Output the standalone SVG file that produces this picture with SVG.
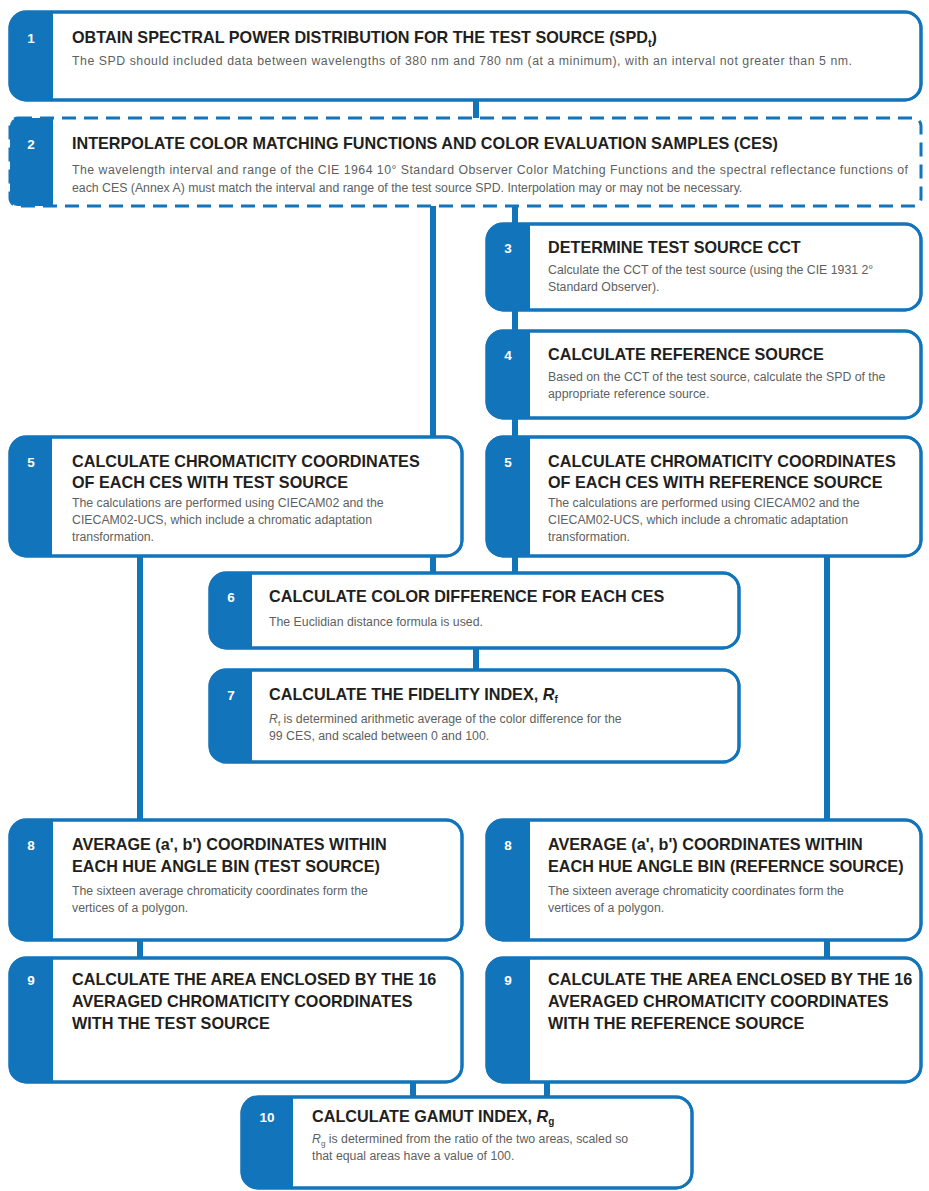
<svg xmlns="http://www.w3.org/2000/svg" width="929" height="1191" viewBox="0 0 929 1191">
<style>
.bg{fill:#fff}
.bx{fill:#fff;stroke:#1275bb;stroke-width:3}
.bxd{fill:none;stroke:#1275bb;stroke-width:3;stroke-dasharray:14 8}
.tab{fill:#1275bb}
.con{stroke:#1275bb;stroke-width:6;fill:none}
.num{font-family:"Liberation Sans",Arial,sans-serif;font-weight:bold;font-size:13.5px;fill:#fff;text-anchor:middle}
.ttl{font-family:"Liberation Sans",Arial,sans-serif;font-weight:bold;font-size:16.2px;fill:#231f20}
.sub{font-family:"Liberation Sans",Arial,sans-serif;font-size:12.3px;fill:#5e5f61}
</style>
<rect class="bg" x="0" y="0" width="929" height="1191"/>
<g id="connectors">
<line class="con" x1="476" y1="100" x2="476" y2="118"/>
<line class="con" x1="433" y1="206" x2="433" y2="437"/>
<line class="con" x1="515" y1="206" x2="515" y2="224"/>
<line class="con" x1="515" y1="310" x2="515" y2="331"/>
<line class="con" x1="515" y1="418" x2="515" y2="437"/>
<line class="con" x1="433" y1="556" x2="433" y2="573"/>
<line class="con" x1="515" y1="556" x2="515" y2="573"/>
<line class="con" x1="476" y1="648" x2="476" y2="670"/>
<line class="con" x1="140" y1="556" x2="140" y2="820"/>
<line class="con" x1="827" y1="556" x2="827" y2="820"/>
<line class="con" x1="140" y1="940" x2="140" y2="958"/>
<line class="con" x1="827" y1="940" x2="827" y2="958"/>
<line class="con" x1="413" y1="1082" x2="413" y2="1097"/>
<line class="con" x1="547" y1="1082" x2="547" y2="1097"/>
</g>
<g id="n1">
<rect class="bx" x="10" y="12" width="911" height="88" rx="16"/>
<path class="tab" d="M26 12 H53 V100 H26 A16 16 0 0 1 10 84 V28 A16 16 0 0 1 26 12 Z"/>
<rect fill="none" stroke="#1275bb" stroke-width="3" x="10" y="12" width="911" height="88" rx="16"/>
<text class="num" x="31" y="43">1</text>
<text class="ttl" x="72" y="43">OBTAIN SPECTRAL POWER DISTRIBUTION FOR THE TEST SOURCE (SPD<tspan font-size="11" dy="4">t</tspan><tspan dy="-4">)</tspan></text>
<text class="sub" x="72" y="65" textLength="780">The SPD should included data between wavelengths of 380 nm and 780 nm (at a minimum), with an interval not greater than 5 nm.</text>
</g>
<g id="n2">
<rect fill="#fff" x="10" y="118" width="911" height="88" rx="8"/>
<path class="tab" d="M18 118 H53 V206 H18 A8 8 0 0 1 10 198 V126 A8 8 0 0 1 18 118 Z"/>
<rect class="bxd" x="10" y="118" width="911" height="88" rx="8"/>
<text class="num" x="31" y="149">2</text>
<text class="ttl" x="72" y="149">INTERPOLATE COLOR MATCHING FUNCTIONS AND COLOR EVALUATION SAMPLES (CES)</text>
<text class="sub" x="72" y="174" textLength="836">The wavelength interval and range of the CIE 1964 10° Standard Observer Color Matching Functions and the spectral reflectance functions of</text>
<text class="sub" x="72" y="192">each CES (Annex A) must match the interval and range of the test source SPD. Interpolation may or may not be necessary.</text>
</g>
<g id="n3">
<rect class="bx" x="487" y="224" width="434" height="86" rx="16"/>
<path class="tab" d="M503 224 H530 V310 H503 A16 16 0 0 1 487 294 V240 A16 16 0 0 1 503 224 Z"/>
<rect fill="none" stroke="#1275bb" stroke-width="3" x="487" y="224" width="434" height="86" rx="16"/>
<text class="num" x="508" y="253">3</text>
<text class="ttl" x="548" y="253">DETERMINE TEST SOURCE CCT</text>
<text class="sub" x="548" y="274">Calculate the CCT of the test source (using the CIE 1931 2°</text>
<text class="sub" x="548" y="291">Standard Observer).</text>
</g>
<g id="n4">
<rect class="bx" x="487" y="331" width="434" height="87" rx="16"/>
<path class="tab" d="M503 331 H530 V418 H503 A16 16 0 0 1 487 402 V347 A16 16 0 0 1 503 331 Z"/>
<rect fill="none" stroke="#1275bb" stroke-width="3" x="487" y="331" width="434" height="87" rx="16"/>
<text class="num" x="508" y="360">4</text>
<text class="ttl" x="548" y="360">CALCULATE REFERENCE SOURCE</text>
<text class="sub" x="548" y="381">Based on the CCT of the test source, calculate the SPD of the</text>
<text class="sub" x="548" y="398">appropriate reference source.</text>
</g>
<g id="n5a">
<rect class="bx" x="10" y="437" width="452" height="119" rx="16"/>
<path class="tab" d="M26 437 H52 V556 H26 A16 16 0 0 1 10 540 V453 A16 16 0 0 1 26 437 Z"/>
<rect fill="none" stroke="#1275bb" stroke-width="3" x="10" y="437" width="452" height="119" rx="16"/>
<text class="num" x="31" y="467">5</text>
<text class="ttl" x="72" y="467">CALCULATE CHROMATICITY COORDINATES</text>
<text class="ttl" x="72" y="488">OF EACH CES WITH TEST SOURCE</text>
<text class="sub" x="72" y="507">The calculations are performed using CIECAM02 and the</text>
<text class="sub" x="72" y="524">CIECAM02-UCS, which include a chromatic adaptation</text>
<text class="sub" x="72" y="541">transformation.</text>
</g>
<g id="n5b">
<rect class="bx" x="487" y="437" width="434" height="119" rx="16"/>
<path class="tab" d="M503 437 H530 V556 H503 A16 16 0 0 1 487 540 V453 A16 16 0 0 1 503 437 Z"/>
<rect fill="none" stroke="#1275bb" stroke-width="3" x="487" y="437" width="434" height="119" rx="16"/>
<text class="num" x="508" y="467">5</text>
<text class="ttl" x="548" y="467">CALCULATE CHROMATICITY COORDINATES</text>
<text class="ttl" x="548" y="488">OF EACH CES WITH REFERENCE SOURCE</text>
<text class="sub" x="548" y="507">The calculations are performed using CIECAM02 and the</text>
<text class="sub" x="548" y="524">CIECAM02-UCS, which include a chromatic adaptation</text>
<text class="sub" x="548" y="541">transformation.</text>
</g>
<g id="n6">
<rect class="bx" x="210" y="573" width="529" height="75" rx="16"/>
<path class="tab" d="M226 573 H252 V648 H226 A16 16 0 0 1 210 632 V589 A16 16 0 0 1 226 573 Z"/>
<rect fill="none" stroke="#1275bb" stroke-width="3" x="210" y="573" width="529" height="75" rx="16"/>
<text class="num" x="231" y="602">6</text>
<text class="ttl" x="269" y="602">CALCULATE COLOR DIFFERENCE FOR EACH CES</text>
<text class="sub" x="269" y="626">The Euclidian distance formula is used.</text>
</g>
<g id="n7">
<rect class="bx" x="210" y="670" width="529" height="92" rx="16"/>
<path class="tab" d="M226 670 H252 V762 H226 A16 16 0 0 1 210 746 V686 A16 16 0 0 1 226 670 Z"/>
<rect fill="none" stroke="#1275bb" stroke-width="3" x="210" y="670" width="529" height="92" rx="16"/>
<text class="num" x="231" y="700">7</text>
<text class="ttl" x="269" y="700">CALCULATE THE FIDELITY INDEX, <tspan font-style="italic">R</tspan><tspan font-size="10" dy="3">f</tspan></text>
<text class="sub" x="269" y="723"><tspan font-style="italic">R</tspan><tspan font-size="8" dy="3">f</tspan><tspan dy="-3"> is determined arithmetic average of the color difference for the</tspan></text>
<text class="sub" x="269" y="740">99 CES, and scaled between 0 and 100.</text>
</g>
<g id="n8a">
<rect class="bx" x="10" y="820" width="452" height="120" rx="16"/>
<path class="tab" d="M26 820 H53 V940 H26 A16 16 0 0 1 10 924 V836 A16 16 0 0 1 26 820 Z"/>
<rect fill="none" stroke="#1275bb" stroke-width="3" x="10" y="820" width="452" height="120" rx="16"/>
<text class="num" x="31" y="850">8</text>
<text class="ttl" x="72" y="850">AVERAGE (a', b') COORDINATES WITHIN</text>
<text class="ttl" x="72" y="872">EACH HUE ANGLE BIN (TEST SOURCE)</text>
<text class="sub" x="72" y="895">The sixteen average chromaticity coordinates form the</text>
<text class="sub" x="72" y="912">vertices of a polygon.</text>
</g>
<g id="n8b">
<rect class="bx" x="487" y="820" width="434" height="120" rx="16"/>
<path class="tab" d="M503 820 H530 V940 H503 A16 16 0 0 1 487 924 V836 A16 16 0 0 1 503 820 Z"/>
<rect fill="none" stroke="#1275bb" stroke-width="3" x="487" y="820" width="434" height="120" rx="16"/>
<text class="num" x="508" y="850">8</text>
<text class="ttl" x="548" y="850">AVERAGE (a', b') COORDINATES WITHIN</text>
<text class="ttl" x="548" y="872">EACH HUE ANGLE BIN (REFERNCE SOURCE)</text>
<text class="sub" x="548" y="895">The sixteen average chromaticity coordinates form the</text>
<text class="sub" x="548" y="912">vertices of a polygon.</text>
</g>
<g id="n9a">
<rect class="bx" x="10" y="958" width="452" height="124" rx="16"/>
<path class="tab" d="M26 958 H53 V1082 H26 A16 16 0 0 1 10 1066 V974 A16 16 0 0 1 26 958 Z"/>
<rect fill="none" stroke="#1275bb" stroke-width="3" x="10" y="958" width="452" height="124" rx="16"/>
<text class="num" x="31" y="985">9</text>
<text class="ttl" x="72" y="985">CALCULATE THE AREA ENCLOSED BY THE 16</text>
<text class="ttl" x="72" y="1007">AVERAGED CHROMATICITY COORDINATES</text>
<text class="ttl" x="72" y="1029">WITH THE TEST SOURCE</text>
</g>
<g id="n9b">
<rect class="bx" x="487" y="958" width="434" height="124" rx="16"/>
<path class="tab" d="M503 958 H530 V1082 H503 A16 16 0 0 1 487 1066 V974 A16 16 0 0 1 503 958 Z"/>
<rect fill="none" stroke="#1275bb" stroke-width="3" x="487" y="958" width="434" height="124" rx="16"/>
<text class="num" x="508" y="985">9</text>
<text class="ttl" x="548" y="985">CALCULATE THE AREA ENCLOSED BY THE 16</text>
<text class="ttl" x="548" y="1007">AVERAGED CHROMATICITY COORDINATES</text>
<text class="ttl" x="548" y="1029">WITH THE REFERENCE SOURCE</text>
</g>
<g id="n10">
<rect class="bx" x="242" y="1097" width="450" height="91" rx="16"/>
<path class="tab" d="M258 1097 H293 V1188 H258 A16 16 0 0 1 242 1172 V1113 A16 16 0 0 1 258 1097 Z"/>
<rect fill="none" stroke="#1275bb" stroke-width="3" x="242" y="1097" width="450" height="91" rx="16"/>
<text class="num" x="267" y="1122">10</text>
<text class="ttl" x="312" y="1122">CALCULATE GAMUT INDEX, <tspan font-style="italic">R</tspan><tspan font-size="10" dy="3">g</tspan></text>
<text class="sub" x="312" y="1143"><tspan font-style="italic">R</tspan><tspan font-size="8" dy="3">g</tspan><tspan dy="-3"> is determined from the ratio of the two areas, scaled so</tspan></text>
<text class="sub" x="312" y="1160">that equal areas have a value of 100.</text>
</g>
</svg>
